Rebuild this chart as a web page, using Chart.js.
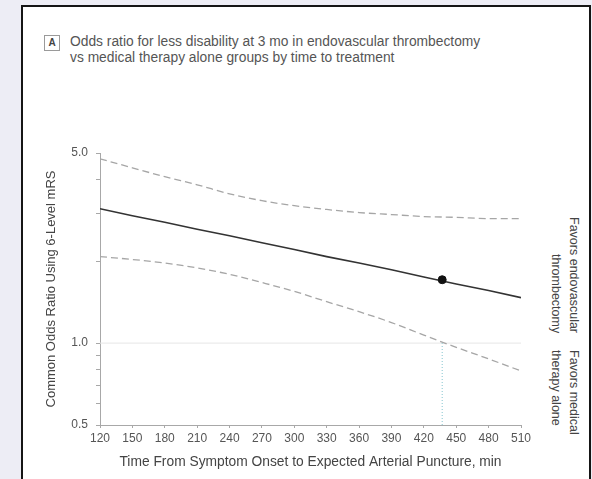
<!DOCTYPE html>
<html>
<head>
<meta charset="utf-8">
<script src="https://cdn.jsdelivr.net/npm/chart.js@4.4.1/dist/chart.umd.min.js"></script>
<style>
  html, body { margin: 0; padding: 0; }
  body {
    width: 592px; height: 479px; overflow: hidden; position: relative;
    background: #ededf5;
    font-family: 'Liberation Sans', Arial, sans-serif;
  }
  .frame {
    position: absolute; left: 21px; top: 5px; width: 566px; height: 520px;
    border: 2px solid #151515; background: #fff;
  }
  #chart { position: absolute; left: 0; top: 0; }
  .panel-letter {
    position: absolute; left: 44px; top: 35px; width: 14px; height: 14px;
    border: 1px solid #9a9a9a; font-size: 10px; font-weight: bold; color: #444;
    text-align: center; line-height: 14px;
  }
  .title {
    position: absolute; left: 70px; top: 34px; font-size: 13.8px; line-height: 16px;
    color: #555; white-space: nowrap;
  }
  .side {
    position: absolute; writing-mode: vertical-rl; font-size: 12.5px; line-height: 18px;
    color: #444; white-space: nowrap; width: 36px;
  }
  #favorsEvt { left: 547px; top: 200px; height: 133px; text-align: end; }
  #favorsMed { left: 547px; top: 350px; height: 110px; text-align: start; }
</style>
</head>
<body>
<div class="frame"></div>
<div class="panel-letter">A</div>
<div class="title">Odds ratio for less disability at 3 mo in endovascular thrombectomy<br>vs medical therapy alone groups by time to treatment</div>
<div class="side" id="favorsEvt">Favors endovascular<br>thrombectomy</div>
<div class="side" id="favorsMed">Favors medical<br>therapy alone</div>
<canvas id="chart" width="592" height="479"></canvas>
<script>
// time to arterial puncture, min
const minutes = [120, 150, 180, 210, 240, 270, 300, 330, 360, 390, 420, 450, 480, 510];
// common odds ratio estimate and 95% CI
const oddsRatio = [3.12, 2.94, 2.78, 2.62, 2.48, 2.34, 2.21, 2.08, 1.97, 1.86, 1.75, 1.65, 1.56, 1.47];
const upperCI = [4.76, 4.41, 4.09, 3.82, 3.54, 3.34, 3.20, 3.10, 3.02, 2.97, 2.92, 2.90, 2.87, 2.87];
const lowerCI = [2.08, 2.03, 1.97, 1.89, 1.79, 1.67, 1.55, 1.42, 1.305, 1.19, 1.07, 0.965, 0.875, 0.79];

// marked point and the time where lower CI crosses 1.0
const markerTime = 437;
const markerOR = 1.71;
const refRange = [120, 510];
const refOR = 1.0;
const crossY = [0.5, 1.0];

const xTicks = [120, 150, 180, 210, 240, 270, 300, 330, 360, 390, 420, 450, 480, 510];
const yTicks = [0.5, 0.6, 0.7, 0.8, 0.9, 1, 2, 3, 4, 5];
const yTickLabels = ['0.5', '', '', '', '', '1.0', '', '', '', '5.0'];

const axisGray = '#a8a8a8';
const textGray = '#555';
const fontFamily = "'Liberation Sans', Arial, sans-serif";
const tickFont = { family: fontFamily, size: 12 };

const pairs = (xs, ys) => xs.map((x, i) => ({ x: x, y: ys[i] }));

new Chart(document.getElementById('chart'), {
    type: 'line',
    data: {
        datasets: [
            {
                label: 'marker',
                data: [{ x: markerTime, y: markerOR }],
                showLine: false,
                pointRadius: 4,
                pointBackgroundColor: '#111',
                pointBorderColor: '#111'
            },
            {
                label: 'Odds ratio',
                data: pairs(minutes, oddsRatio),
                borderColor: '#333',
                borderWidth: 1.6,
                pointRadius: 0
            },
            {
                label: 'Upper 95% CI',
                data: pairs(minutes, upperCI),
                borderColor: '#a6a6a6',
                borderWidth: 1.3,
                borderDash: [7, 4],
                cubicInterpolationMode: 'monotone',
                pointRadius: 0
            },
            {
                label: 'Lower 95% CI',
                data: pairs(minutes, lowerCI),
                borderColor: '#a6a6a6',
                borderWidth: 1.3,
                borderDash: [7, 4],
                cubicInterpolationMode: 'monotone',
                pointRadius: 0
            },
            {
                label: 'crossing',
                data: crossY.map(y => ({ x: markerTime, y: y })),
                borderColor: '#86c6cf',
                borderWidth: 1,
                borderDash: [1, 2],
                pointRadius: 0
            },
            {
                label: 'no effect',
                data: refRange.map(x => ({ x: x, y: refOR })),
                borderColor: '#e6e6e6',
                borderWidth: 1,
                pointRadius: 0
            }
        ]
    },
    options: {
        responsive: false,
        animation: false,
        layout: { padding: { top: 153, right: 71, bottom: 0, left: 0 } },
        plugins: { legend: { display: false }, tooltip: { enabled: false } },
        scales: {
            x: {
                type: 'linear',
                min: 120,
                max: 510,
                afterBuildTicks: scale => { scale.ticks = xTicks.map(v => ({ value: v })); },
                afterFit: scale => { scale.height = 54; },
                border: { color: axisGray, width: 1 },
                grid: { drawOnChartArea: false, tickLength: 3, tickColor: axisGray },
                ticks: { color: textGray, font: tickFont, padding: 3, maxRotation: 0, autoSkip: false },
                title: {
                    display: true,
                    text: 'Time From Symptom Onset to Expected Arterial Puncture, min',
                    color: '#444',
                    font: { family: fontFamily, size: 13.8 },
                    padding: { top: 0, bottom: 9 }
                }
            },
            y: {
                type: 'logarithmic',
                min: 0.5,
                max: 5,
                afterBuildTicks: scale => { scale.ticks = yTicks.map(v => ({ value: v })); },
                afterFit: scale => { scale.width = 100; },
                border: { color: axisGray, width: 1 },
                grid: { drawOnChartArea: false, tickLength: 4, tickColor: axisGray },
                ticks: {
                    color: textGray,
                    font: tickFont,
                    padding: 8,
                    autoSkip: false,
                    callback: (v, i) => yTickLabels[i]
                },
                title: {
                    display: true,
                    text: 'Common Odds Ratio Using 6-Level mRS',
                    color: '#444',
                    font: { family: fontFamily, size: 13 },
                    padding: { top: 44, bottom: 0 }
                }
            }
        }
    }
});
</script>
</body>
</html>
